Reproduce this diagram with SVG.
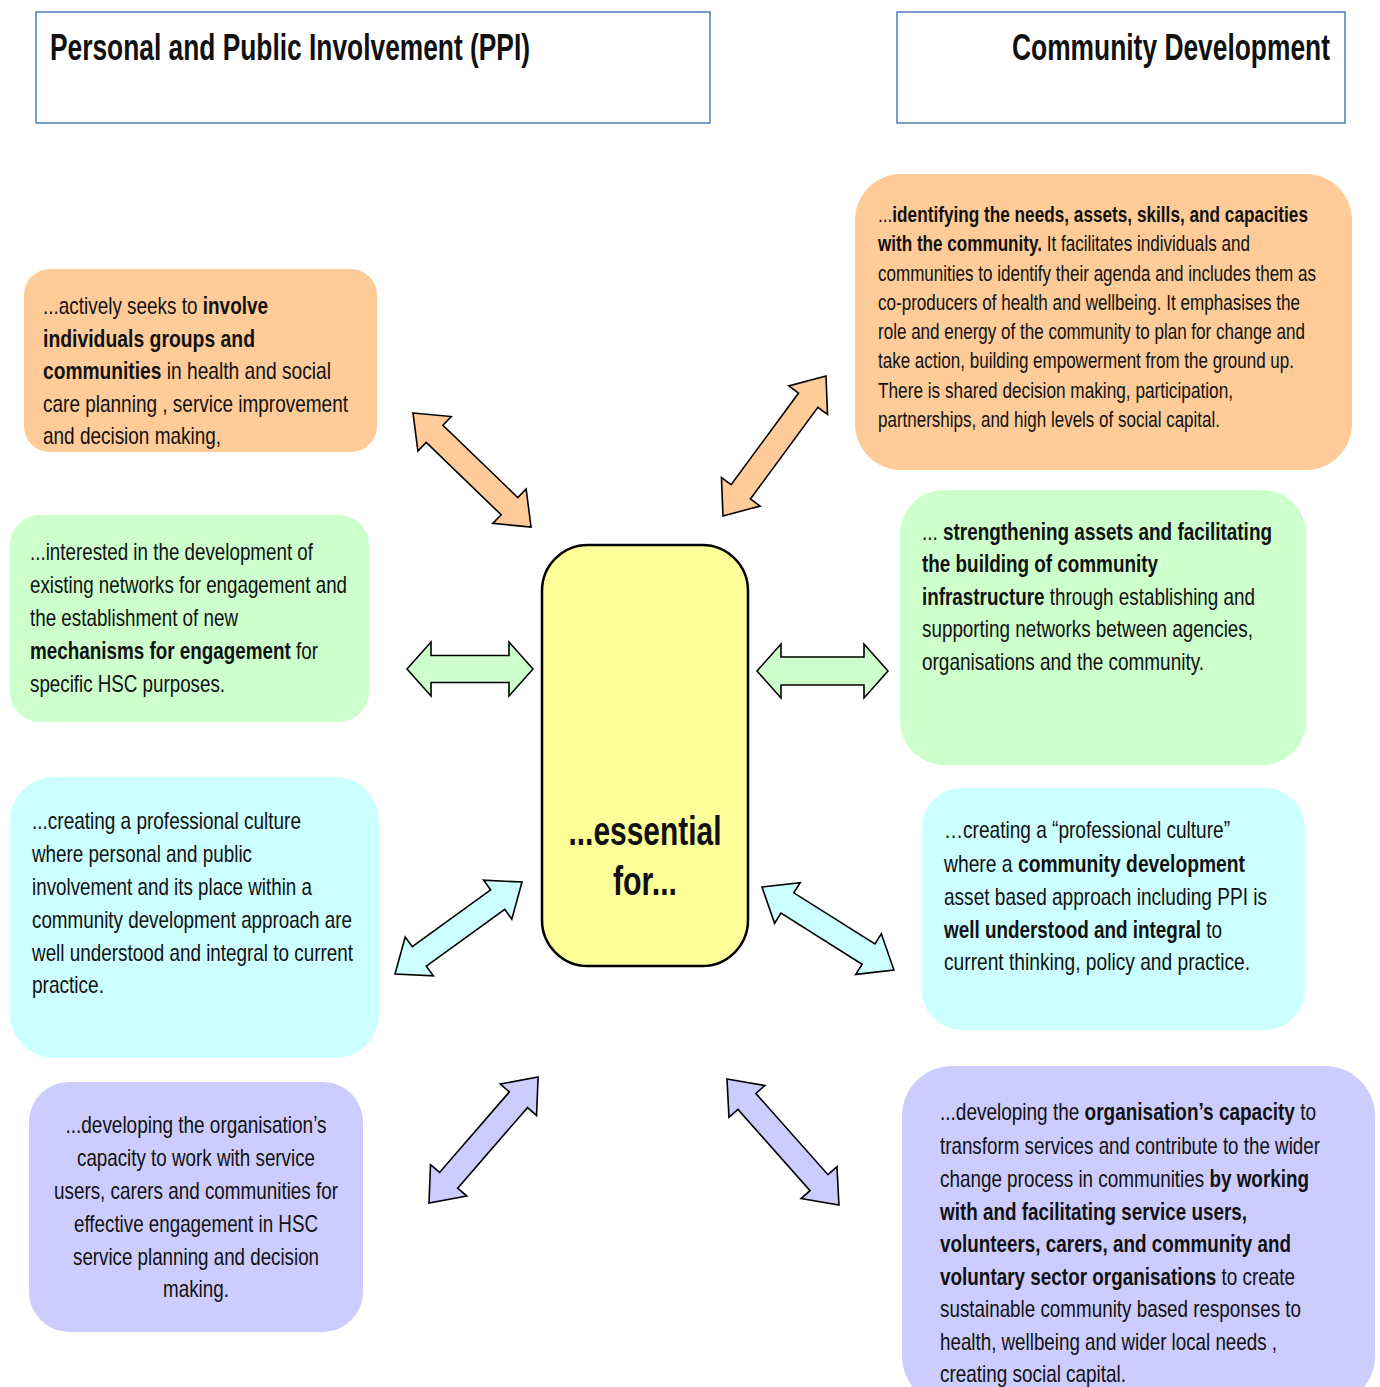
<svg xmlns="http://www.w3.org/2000/svg" width="1380" height="1387" viewBox="0 0 1380 1387">
<style>
text{font-family:"Liberation Sans",Arial,sans-serif;fill:#111;}
.t{font-size:24px;}
.s{font-size:22px;}
.b{font-weight:bold;}
.title{font-size:37px;font-weight:bold;}
.hdr{fill:#fff;stroke:#4a7ebb;stroke-width:1.5;}
.or{fill:#FFCC99;}
.gr{fill:#CCFFCC;}
.cy{fill:#CCFFFF;}
.pu{fill:#CCCCFF;}
.arr{stroke:#000;stroke-width:1.6;stroke-linejoin:miter;}
</style>
<rect width="1380" height="1387" fill="#fff"/>
<g id="hdr-ppi"><rect class="hdr" x="36" y="12" width="674" height="111"/><text class="title" x="50" y="60" textLength="480" lengthAdjust="spacingAndGlyphs">Personal and Public Involvement (PPI)</text></g>
<g id="hdr-cd"><rect class="hdr" x="897" y="12" width="448" height="111"/><text class="title" x="1012" y="60" textLength="318" lengthAdjust="spacingAndGlyphs">Community Development</text></g>

<g id="center"><rect x="542" y="545" width="206" height="421" rx="46" fill="#FFFF99" stroke="#000" stroke-width="2.5"/>
<text x="645" y="845" text-anchor="middle" font-size="41" font-weight="bold" textLength="153" lengthAdjust="spacingAndGlyphs">...essential</text>
<text x="645" y="895" text-anchor="middle" font-size="41" font-weight="bold" textLength="64" lengthAdjust="spacingAndGlyphs">for...</text></g>

<g id="n-or-l" lengthAdjust="spacingAndGlyphs"><rect class="or" x="24" y="269" width="353" height="183" rx="26"/>
<text class="t" x="43" y="314" textLength="225" lengthAdjust="spacingAndGlyphs">...actively seeks to <tspan class="b">involve</tspan></text>
<text class="t b" x="43" y="347" textLength="212" lengthAdjust="spacingAndGlyphs">individuals  groups and</text>
<text class="t" x="43" y="379" textLength="288" lengthAdjust="spacingAndGlyphs"><tspan class="b">communities</tspan>  in health and social</text>
<text class="t" x="43" y="412" textLength="305" lengthAdjust="spacingAndGlyphs">care planning , service improvement</text>
<text class="t" x="43" y="444" textLength="178" lengthAdjust="spacingAndGlyphs">and decision making,</text></g>

<g id="n-or-r"><rect class="or" x="855" y="174" width="497" height="296" rx="46"/>
<text class="s" x="878" y="222" textLength="430" lengthAdjust="spacingAndGlyphs">...<tspan class="b">identifying the needs, assets, skills, and capacities</tspan></text>
<text class="s" x="878" y="251" textLength="372" lengthAdjust="spacingAndGlyphs"><tspan class="b">with the community.</tspan> It facilitates individuals and</text>
<text class="s" x="878" y="281" textLength="438" lengthAdjust="spacingAndGlyphs">communities to identify their agenda and includes them as</text>
<text class="s" x="878" y="310" textLength="422" lengthAdjust="spacingAndGlyphs">co-producers of health and wellbeing.  It emphasises the</text>
<text class="s" x="878" y="339" textLength="427" lengthAdjust="spacingAndGlyphs">role and energy of the community to plan for change and</text>
<text class="s" x="878" y="368" textLength="416" lengthAdjust="spacingAndGlyphs">take action, building empowerment from the ground up.</text>
<text class="s" x="878" y="398" textLength="355" lengthAdjust="spacingAndGlyphs">There is shared  decision making, participation,</text>
<text class="s" x="878" y="427" textLength="342" lengthAdjust="spacingAndGlyphs">partnerships, and high levels of social capital.</text></g>

<g id="n-gr-l"><rect class="gr" x="10" y="515" width="359" height="207" rx="30"/>
<text class="t" x="30" y="560" textLength="283" lengthAdjust="spacingAndGlyphs">...interested in the development of</text>
<text class="t" x="30" y="593" textLength="317" lengthAdjust="spacingAndGlyphs">existing networks for engagement and</text>
<text class="t" x="30" y="626" textLength="208" lengthAdjust="spacingAndGlyphs">the establishment of new</text>
<text class="t" x="30" y="659" textLength="288" lengthAdjust="spacingAndGlyphs"><tspan class="b">mechanisms for engagement</tspan> for</text>
<text class="t" x="30" y="692" textLength="195" lengthAdjust="spacingAndGlyphs">specific HSC purposes.</text></g>

<g id="n-gr-r"><rect class="gr" x="900" y="490" width="406" height="275" rx="44"/>
<text class="t" x="922" y="540" textLength="350" lengthAdjust="spacingAndGlyphs">... <tspan class="b">strengthening assets and facilitating</tspan></text>
<text class="t b" x="922" y="572" textLength="236" lengthAdjust="spacingAndGlyphs">the building of community</text>
<text class="t" x="922" y="605" textLength="333" lengthAdjust="spacingAndGlyphs"><tspan class="b">infrastructure</tspan> through establishing and</text>
<text class="t" x="922" y="637" textLength="331" lengthAdjust="spacingAndGlyphs">supporting networks between agencies,</text>
<text class="t" x="922" y="670" textLength="282" lengthAdjust="spacingAndGlyphs">organisations and the community.</text></g>

<g id="n-cy-l"><rect class="cy" x="10" y="777" width="369" height="281" rx="44"/>
<text class="t" x="32" y="829" textLength="269" lengthAdjust="spacingAndGlyphs">...creating a professional culture</text>
<text class="t" x="32" y="862" textLength="220" lengthAdjust="spacingAndGlyphs">where personal and public</text>
<text class="t" x="32" y="895" textLength="280" lengthAdjust="spacingAndGlyphs">involvement and its place within a</text>
<text class="t" x="32" y="928" textLength="320" lengthAdjust="spacingAndGlyphs">community development approach are</text>
<text class="t" x="32" y="961" textLength="321" lengthAdjust="spacingAndGlyphs">well understood and integral to current</text>
<text class="t" x="32" y="993" textLength="72" lengthAdjust="spacingAndGlyphs">practice.</text></g>

<g id="n-cy-r"><rect class="cy" x="922" y="788" width="383" height="242" rx="40"/>
<text class="t" x="944" y="838" textLength="286" lengthAdjust="spacingAndGlyphs">…creating a “professional culture”</text>
<text class="t" x="944" y="872" textLength="301" lengthAdjust="spacingAndGlyphs">where a  <tspan class="b">community development</tspan></text>
<text class="t" x="944" y="905" textLength="323" lengthAdjust="spacingAndGlyphs">asset based approach including  PPI is</text>
<text class="t" x="944" y="938" textLength="278" lengthAdjust="spacingAndGlyphs"><tspan class="b">well understood and integral</tspan> to</text>
<text class="t" x="944" y="970" textLength="306" lengthAdjust="spacingAndGlyphs">current thinking, policy  and practice.</text></g>

<g id="n-pu-l"><rect class="pu" x="29" y="1082" width="334" height="250" rx="40"/>
<text class="t" x="196" y="1133" text-anchor="middle" textLength="261" lengthAdjust="spacingAndGlyphs">...developing the organisation’s</text>
<text class="t" x="196" y="1166" text-anchor="middle" textLength="238" lengthAdjust="spacingAndGlyphs">capacity to work with service</text>
<text class="t" x="196" y="1199" text-anchor="middle" textLength="284" lengthAdjust="spacingAndGlyphs">users, carers and communities for</text>
<text class="t" x="196" y="1232" text-anchor="middle" textLength="244" lengthAdjust="spacingAndGlyphs">effective engagement in HSC</text>
<text class="t" x="196" y="1265" text-anchor="middle" textLength="246" lengthAdjust="spacingAndGlyphs">service planning and decision</text>
<text class="t" x="196" y="1297" text-anchor="middle" textLength="66" lengthAdjust="spacingAndGlyphs">making.</text></g>

<g id="n-pu-r"><rect class="pu" x="902" y="1066" width="473" height="340" rx="50"/>
<text class="t" x="940" y="1120" textLength="376" lengthAdjust="spacingAndGlyphs">...developing the <tspan class="b">organisation’s capacity</tspan> to</text>
<text class="t" x="940" y="1154" textLength="380" lengthAdjust="spacingAndGlyphs">transform services and contribute to the wider</text>
<text class="t" x="940" y="1187" textLength="369" lengthAdjust="spacingAndGlyphs">change process in communities <tspan class="b">by working</tspan></text>
<text class="t b" x="940" y="1220" textLength="307" lengthAdjust="spacingAndGlyphs">with and facilitating service users,</text>
<text class="t b" x="940" y="1252" textLength="351" lengthAdjust="spacingAndGlyphs">volunteers, carers, and community and</text>
<text class="t" x="940" y="1285" textLength="355" lengthAdjust="spacingAndGlyphs"><tspan class="b">voluntary sector organisations</tspan> to create</text>
<text class="t" x="940" y="1317" textLength="361" lengthAdjust="spacingAndGlyphs">sustainable community based responses to</text>
<text class="t" x="940" y="1350" textLength="337" lengthAdjust="spacingAndGlyphs">health, wellbeing and wider local needs ,</text>
<text class="t" x="940" y="1382" textLength="186" lengthAdjust="spacingAndGlyphs">creating social capital.</text></g>

<g id="connectors">
<path class="arr or" transform="translate(413,413) rotate(44)" d="M0,0 L30,-24 L30,-12 L134.1,-12 L134.1,-24 L164.1,0 L134.1,24 L134.1,12 L30,12 L30,24 Z"/>
<path class="arr or" transform="translate(723,516) rotate(-53.66)" d="M0,0 L30,-24 L30,-12 L143.8,-12 L143.8,-24 L173.8,0 L143.8,24 L143.8,12 L30,12 L30,24 Z"/>
<path class="arr gr" transform="translate(407,669)" d="M0,0 L24,-27 L24,-13.5 L102,-13.5 L102,-27 L126,0 L102,27 L102,13.5 L24,13.5 L24,27 Z"/>
<path class="arr gr" transform="translate(757,671)" d="M0,0 L24,-27 L24,-14 L107,-14 L107,-27 L131,0 L107,27 L107,14 L24,14 L24,27 Z"/>
<path class="arr cy" transform="translate(395,974) rotate(-35.9)" d="M0,0 L30,-24 L30,-12 L126.8,-12 L126.8,-24 L156.8,0 L126.8,24 L126.8,12 L30,12 L30,24 Z"/>
<path class="arr cy" transform="translate(762,887) rotate(32.2)" d="M0,0 L30,-24 L30,-12 L125.9,-12 L125.9,-24 L155.9,0 L125.9,24 L125.9,12 L30,12 L30,24 Z"/>
<path class="arr pu" transform="translate(429,1203) rotate(-49.1)" d="M0,0 L30,-24 L30,-12 L136.6,-12 L136.6,-24 L166.6,0 L136.6,24 L136.6,12 L30,12 L30,24 Z"/>
<path class="arr pu" transform="translate(727,1079) rotate(48.4)" d="M0,0 L30,-24 L30,-12 L138.6,-12 L138.6,-24 L168.6,0 L138.6,24 L138.6,12 L30,12 L30,24 Z"/>
</g>
</svg>
